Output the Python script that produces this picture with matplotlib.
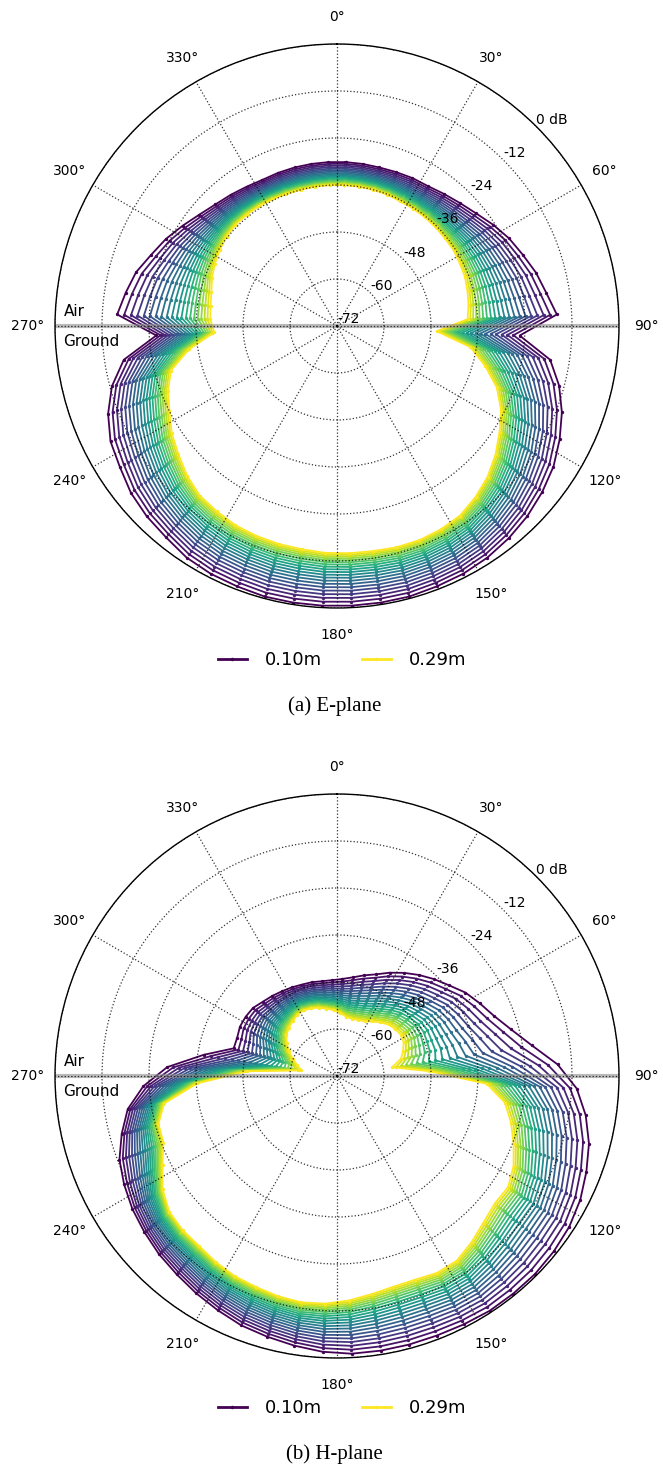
import numpy as np
import matplotlib
matplotlib.use("Agg")
import matplotlib.pyplot as plt
from matplotlib.lines import Line2D

# ---------------- data ----------------
angles_deg = [3 + 6 * k for k in range(60)]          # sample directions (deg)
lengths_m = [0.10 + 0.01 * i for i in range(20)]     # 0.10 m ... 0.29 m

# E-plane, 0.10 m (outermost) and 0.29 m (innermost), dB
e_gain_010 = [-30.1, -30.1, -30.1, -29.9, -29.6, -29.4, -28.6, -27.6, -26.3, -24.5, -22.7, -21.2, -19.4, -17.9, -15.8,
              -25.3, -16.9, -13.3, -10.5, -8.2, -6.1, -4.6, -3.3, -2.3, -1.5, -1.0, -0.8, -0.5, -0.5, -0.5,
              -0.5, -0.5, -0.5, -0.8, -1.0, -1.5, -2.6, -3.3, -4.3, -5.9, -7.1, -9.4, -12.5, -16.9, -25.8,
              -15.8, -17.4, -18.9, -21.2, -23.0, -25.0, -26.8, -28.1, -28.9, -29.6, -30.1, -30.1, -30.1, -30.1, -30.1]
e_gain_029 = [-36.0, -36.0, -36.0, -36.1, -36.3, -36.3, -36.3, -36.4, -36.5, -36.5, -36.8, -37.0, -37.5, -38.0, -38.6,
              -46.5, -37.5, -32.9, -28.3, -25.0, -22.5, -19.9, -17.6, -15.8, -14.3, -13.7, -13.4, -13.5, -13.8, -13.9,
              -14.0, -14.3, -14.4, -14.6, -14.9, -15.6, -16.3, -17.9, -19.9, -21.7, -24.0, -25.8, -28.1, -33.7, -40.6,
              -39.6, -39.3, -38.8, -37.8, -37.0, -36.3, -35.7, -35.4, -35.4, -35.5, -35.7, -35.9, -36.0, -36.0, -36.0]

# H-plane, 0.10 m and 0.29 m, dB
h_gain_010 = [-47.2, -46.5, -45.4, -44.2, -42.4, -40.6, -38.8, -37.0, -35.2, -32.9, -31.1, -29.1, -26.0, -21.7, -15.6,
              -10.7, -7.7, -5.4, -3.8, -2.3, -1.3, -0.8, -0.5, -0.5, -0.5, -0.8, -1.0, -1.0, -1.0, -1.0,
              -1.5, -2.3, -3.1, -3.8, -4.9, -5.9, -6.9, -7.7, -8.7, -9.7, -11.0, -12.5, -15.1, -17.9, -22.5,
              -28.6, -37.5, -44.7, -44.7, -44.2, -44.2, -44.4, -45.2, -45.7, -46.2, -46.6, -47.0, -47.2, -47.5, -47.5]
h_gain_029 = [-55.9, -56.7, -56.9, -56.7, -56.3, -55.4, -54.4, -53.4, -52.9, -52.6, -52.9, -53.9, -55.1, -57.7, -48.5,
              -33.7, -28.6, -26.0, -23.7, -21.4, -19.9, -20.2, -19.1, -17.4, -15.8, -15.6, -16.3, -16.3, -15.6, -14.6,
              -13.8, -13.5, -13.8, -14.3, -14.6, -15.3, -16.1, -16.3, -16.9, -18.9, -22.0, -24.5, -24.8, -27.3, -36.3,
              -49.0, -62.8, -61.5, -60.0, -58.2, -56.7, -55.4, -54.6, -54.0, -53.4, -53.2, -53.5, -53.9, -54.6, -55.1]

# relative position of each length's curve between the 0.10 m and 0.29 m curves (read from spacing)
curve_position = [0.0, 0.075, 0.148, 0.218, 0.286, 0.351, 0.414, 0.474, 0.532, 0.587,
                  0.640, 0.690, 0.738, 0.783, 0.826, 0.866, 0.903, 0.938, 0.970, 1.0]

r_ticks = [-72, -60, -48, -36, -24, -12, 0]
r_ticklabels = ["-72", "-60", "-48", "-36", "-24", "-12", "0 dB"]
theta_ticks = list(range(0, 360, 30))
theta_ticklabels = [f"{t}\u00b0" for t in theta_ticks]
captions = ["(a) E-plane", "(b) H-plane"]

# ---------------- figure ----------------
W, H = 663, 1470
fig = plt.figure(figsize=(W / 100, H / 100), dpi=100)
cmap = plt.get_cmap("viridis")

def px_axes(cx, cy, rad):
    return [(cx - rad) / W, 1 - (cy + rad) / H, 2 * rad / W, 2 * rad / H]

def draw(ax, g_out, g_in):
    th = np.deg2rad(np.array(angles_deg + [angles_deg[0]]))
    go = np.array(g_out + [g_out[0]])
    gi = np.array(g_in + [g_in[0]])
    n = len(lengths_m)
    for i, w in enumerate(curve_position):
        col = cmap(i / (n - 1))
        ax.plot(th, go + (gi - go) * w, color=col, lw=1.3, marker='.', ms=2.8, zorder=2 + i * 0.001)
    ax.set_axisbelow(False)
    ax.set_theta_zero_location("N")
    ax.set_theta_direction(-1)
    ax.set_ylim(-72, 0)
    ax.set_yticks(r_ticks)
    ax.set_yticklabels(r_ticklabels, fontsize=10)
    ax.set_rlabel_position(45)
    ax.set_xticks(np.deg2rad(theta_ticks))
    ax.set_xticklabels(theta_ticklabels, fontsize=10)
    ax.tick_params(axis='x', pad=9)
    ax.grid(True, ls=':', color='k', lw=0.9, alpha=0.8)
    ax.spines['polar'].set_linewidth(1.0)
    # air / ground boundary
    for t in (np.pi / 2, 3 * np.pi / 2):
        ax.plot([t, t], [-72, 0], color='0.55', lw=3.0, alpha=0.6, zorder=2.2, solid_capstyle='butt')
    ax.text(0.015, 0.525, "Air", transform=ax.transAxes, fontsize=11, ha='left', va='center', zorder=5)
    ax.text(0.015, 0.473, "Ground", transform=ax.transAxes, fontsize=11, ha='left', va='center', zorder=5)

ax1 = fig.add_axes(px_axes(337, 326, 282), projection='polar')
draw(ax1, e_gain_010, e_gain_029)
ax2 = fig.add_axes(px_axes(337, 1076, 282), projection='polar')
draw(ax2, h_gain_010, h_gain_029)

handles = [Line2D([], [], color=cmap(0.0), lw=2, marker='.', ms=3),
           Line2D([], [], color=cmap(1.0), lw=2, marker='.', ms=3)]
labels = [f"{lengths_m[0]:.2f}m", f"{lengths_m[-1]:.2f}m"]
for ycen in (660, 1408):
    fig.legend(handles, labels, loc='center', bbox_to_anchor=(342 / W, 1 - ycen / H), ncol=2,
               frameon=False, fontsize=13, handlelength=1.6, handletextpad=1.0, columnspacing=2.2)

for cap, ycen in zip(captions, (706, 1454)):
    fig.text(334.5 / W, 1 - ycen / H, cap, ha='center', va='center', fontsize=15, family='Liberation Serif')

fig.savefig("out.png", dpi=100)
